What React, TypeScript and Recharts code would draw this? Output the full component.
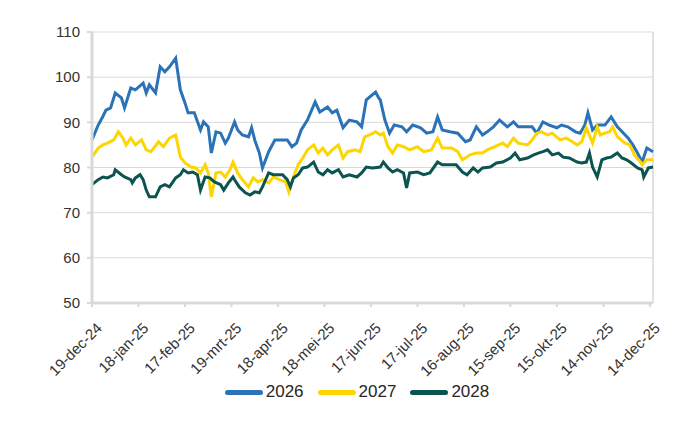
import { LineChart, Line, XAxis, YAxis, CartesianGrid, Legend, ReferenceLine } from 'recharts';

// [day since 19-dec-24, value]
const series2026: [number, number][] = [
  [0, 86.1], [4, 89.4], [7, 91.3], [9, 92.7], [12, 93.2], [15, 96.5], [19, 95.4], [21, 93.2], [25, 97.6], [28, 97.2],
  [33, 98.7], [35, 96.5], [37, 98.3], [41, 96.5], [44, 102.3], [47, 101.2], [50, 102.3], [54, 104.2], [57, 97.2], [60, 94.3],
  [62, 92.1], [66, 92.1], [70, 88.3], [72, 90.1], [75, 89], [77, 83.2], [80, 87.9], [83, 87.6], [86, 85.4], [88, 86.5],
  [92, 90.1], [94, 88.3], [97, 87.2], [101, 86.8], [103, 88.8], [105, 86.1], [108, 83.2], [110, 79.9], [114, 83.5], [118, 86.1],
  [123, 86.1], [126, 86.1], [129, 84.6], [132, 85.4], [135, 88.3], [139, 90.5], [144, 94.5], [147, 92.3], [152, 93.4], [155, 92.1],
  [158, 92.7], [162, 88.8], [166, 90.5], [171, 90.1], [174, 89], [177, 95], [183, 96.7], [185, 95.4], [186, 95], [189, 90.5],
  [192, 87.6], [195, 89.4], [200, 89], [203, 87.9], [207, 89.4], [212, 88.8], [216, 87.6], [220, 87.9], [223, 91.2], [226, 88.3],
  [231, 87.9], [236, 87.6], [241, 85.7], [244, 86.1], [248, 89], [252, 87.2], [255, 87.9], [259, 89], [263, 90.5], [268, 89],
  [272, 90.1], [275, 89], [284, 89], [287, 87.6], [291, 90.1], [295, 89.4], [300, 88.8], [303, 89.4], [307, 89], [312, 87.9],
  [315, 87.6], [318, 89.4], [320, 92.1], [323, 88.3], [326, 89.4], [331, 89.4], [335, 91.2], [339, 89], [343, 87.6], [346, 86.5],
  [349, 85], [352, 83.2], [355, 81.2], [358, 84.3], [362, 83.5],
];

const series2027: [number, number][] = [
  [0, 82.3], [4, 84.3], [7, 85], [10, 85.4], [14, 86.1], [17, 87.9], [20, 86.5], [22, 85], [25, 86.5], [28, 85],
  [32, 86.1], [35, 83.9], [38, 83.5], [43, 85.7], [46, 84.6], [50, 86.5], [54, 87.2], [57, 82.3], [60, 81], [64, 80.1],
  [67, 79.9], [70, 78.8], [73, 80.6], [75, 78.8], [77, 73.5], [80, 78.8], [83, 79], [86, 77.9], [89, 79.5], [91, 81.2],
  [94, 78.8], [97, 77.3], [101, 75.7], [104, 77.7], [107, 76.8], [110, 77.3], [114, 76.6], [117, 77.9], [121, 77.3], [125, 76.8],
  [127, 74.6], [130, 77.9], [133, 80.6], [136, 82.1], [139, 83.9], [143, 85], [146, 83.2], [149, 84.3], [152, 82.8], [155, 83.9],
  [159, 85], [162, 82.1], [165, 83.5], [170, 83.9], [173, 83.5], [176, 86.8], [179, 87.2], [183, 87.9], [186, 87.2], [188, 87.6],
  [191, 84.6], [194, 83.2], [197, 85], [201, 84.6], [205, 83.9], [210, 84.6], [214, 83.5], [219, 83.9], [223, 86.5], [226, 84.3],
  [232, 84.3], [236, 83.5], [239, 81.7], [244, 82.8], [248, 83.2], [252, 83.2], [255, 83.9], [260, 84.6], [265, 85.4], [268, 84.6],
  [272, 86.5], [275, 85.4], [281, 85], [284, 86.1], [287, 87.6], [290, 87.9], [294, 87.2], [297, 87.6], [302, 86.1], [306, 86.5],
  [310, 85.7], [313, 85], [316, 85.7], [319, 88.8], [323, 85.4], [326, 89], [328, 87.2], [331, 87.6], [334, 87.9], [336, 89],
  [339, 86.8], [344, 85.4], [347, 85], [350, 82.8], [354, 81.2], [355, 80.6], [358, 81.7], [362, 81.7],
];

const series2028: [number, number][] = [
  [0, 76.2], [4, 77.3], [7, 77.9], [10, 77.7], [14, 78.4], [15, 79.5], [19, 78.4], [21, 77.9], [25, 77.3], [26, 76.6],
  [28, 77.7], [31, 78.4], [33, 77.3], [35, 75], [37, 73.5], [41, 73.5], [44, 75.7], [47, 76.2], [50, 75.7], [54, 77.7],
  [57, 78.4], [59, 79.5], [62, 78.8], [65, 79], [68, 78.4], [70, 75], [73, 77.9], [76, 77.7], [79, 76.8], [83, 76.2],
  [85, 75], [88, 76.6], [91, 77.9], [92, 77.3], [95, 75.7], [99, 74.4], [102, 73.9], [105, 74.6], [108, 74.4], [110, 75.7],
  [114, 78.8], [117, 78.4], [120, 78.4], [123, 78.4], [126, 77.3], [128, 75.7], [130, 77.7], [133, 78.4], [136, 79.9], [139, 80.1],
  [143, 81.2], [146, 79], [149, 78.4], [152, 79.5], [155, 78.8], [159, 79.5], [162, 77.9], [166, 78.4], [171, 77.9], [174, 78.8],
  [177, 80.1], [181, 79.9], [186, 80.1], [188, 81.2], [191, 79.9], [194, 79], [197, 79.5], [201, 78.8], [203, 75.5], [205, 78.8],
  [210, 79], [214, 78.4], [218, 78.8], [223, 81.2], [226, 80.6], [231, 80.6], [235, 80.6], [239, 79], [242, 78.4], [246, 79.9],
  [249, 79], [252, 79.9], [257, 80.1], [261, 81], [265, 81.2], [270, 82.1], [273, 83.2], [276, 81.7], [281, 82.1], [285, 82.8],
  [288, 83.2], [291, 83.5], [294, 83.9], [297, 82.8], [301, 83.2], [304, 82.3], [308, 82.1], [313, 81.2], [316, 81], [319, 81.2],
  [321, 83.2], [323, 80.1], [326, 77.9], [329, 81.7], [332, 82.1], [335, 82.3], [339, 83.2], [342, 82.1], [345, 81.7], [348, 81],
  [352, 79.9], [355, 79.5], [356, 77.9], [359, 79.9], [362, 80.1],
];

const tickDays = [0, 30, 60, 90, 120, 150, 180, 210, 240, 270, 300, 330, 360];
const tickLabels = [
  '19-dec-24', '18-jan-25', '17-feb-25', '19-mrt-25', '18-apr-25', '18-mei-25', '17-jun-25',
  '17-jul-25', '16-aug-25', '15-sep-25', '15-okt-25', '14-nov-25', '14-dec-25',
];
const yTicks = [50, 60, 70, 80, 90, 100, 110];

const SERIES = [
  { name: '2026', color: '#2B72B6', points: series2026 },
  { name: '2027', color: '#FDD600', points: series2027 },
  { name: '2028', color: '#0B5450', points: series2028 },
];

const FONT = '"Liberation Sans", Arial, sans-serif';
const GRID = '#d9d9d9';

const toRows = (pts: [number, number][]) => pts.map(([d, v]) => ({ d, v }));

const DateTick = ({ x, y, payload }: { x?: number; y?: number; payload?: { value: number } }) => {
  const idx = tickDays.indexOf(payload?.value ?? -1);
  return (
    <text
      transform={`translate(${(x ?? 0) + 11},${(y ?? 0) + 20}) rotate(-45)`}
      textAnchor="end"
      fontSize={15}
      fontFamily={FONT}
      fill="#333"
    >
      {tickLabels[idx]}
    </text>
  );
};

const LegendContent = () => (
  <div
    style={{
      width: 700,
      height: 40,
      boxSizing: 'border-box',
      paddingLeft: 14,
      display: 'flex',
      justifyContent: 'center',
      alignItems: 'center',
      fontFamily: FONT,
      fontSize: 17,
      color: '#262626',
    }}
  >
    {SERIES.map((s, i) => (
      <span key={s.name} style={{ display: 'flex', alignItems: 'center', marginLeft: i === 0 ? 0 : 14 }}>
        <span style={{ width: 38, height: 5, borderRadius: 3, background: s.color, marginRight: 3 }} />
        {s.name}
      </span>
    ))}
  </div>
);

export default function App() {
  return (
    <div style={{ position: 'absolute', left: 0, top: 0, width: 700, height: 430, background: '#fff' }}>
      <LineChart width={700} height={430} margin={{ top: 32, right: 47, bottom: 18, left: 0 }}>
        <CartesianGrid stroke={GRID} vertical={false} />
        <XAxis
          dataKey="d"
          type="number"
          domain={[0, 362]}
          ticks={tickDays}
          tick={<DateTick />}
          interval={0}
          height={69}
          axisLine={{ stroke: GRID, strokeWidth: 3 }}
          tickLine={{ stroke: GRID, strokeWidth: 2 }}
          tickSize={4}
          tickMargin={2}
          allowDuplicatedCategory={false}
        />
        <YAxis
          type="number"
          domain={[50, 110]}
          ticks={yTicks}
          interval={0}
          width={92}
          axisLine={{ stroke: GRID, strokeWidth: 3 }}
          tickLine={{ stroke: GRID, strokeWidth: 2 }}
          tickSize={5}
          tickMargin={7}
          tick={{ fontSize: 15, fontFamily: FONT, fill: '#333' }}
        />
        <ReferenceLine x={362} stroke={GRID} strokeWidth={1.5} />
        {SERIES.map((s) => (
          <Line
            key={s.name}
            data={toRows(s.points)}
            dataKey="v"
            name={s.name}
            type="linear"
            stroke={s.color}
            strokeWidth={3}
            dot={false}
            activeDot={false}
            isAnimationActive={false}
          />
        ))}
        <Legend verticalAlign="bottom" align="center" content={<LegendContent />} />
      </LineChart>
    </div>
  );
}
